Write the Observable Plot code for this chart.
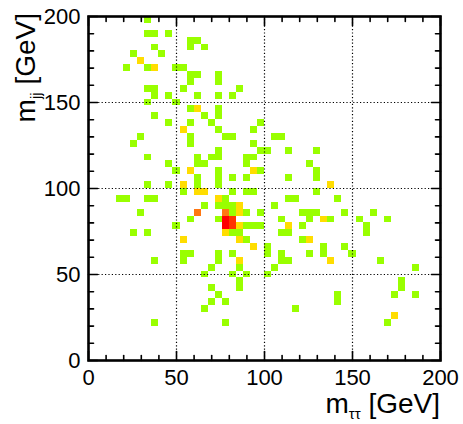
<!DOCTYPE html>
<html>
<head>
<meta charset="utf-8">
<script src="https://cdn.jsdelivr.net/npm/d3@7"></script>
<script src="https://cdn.jsdelivr.net/npm/@observablehq/plot@0.6"></script>
<style>
  html, body { margin: 0; padding: 0; background: #fff; }
  #chart svg { display: block; }
</style>
</head>
<body>
<div id="chart"></div>
<script>
// Bin width of the 2D histogram (GeV)
const binWidth = 4;
// Lower edges [m_tautau, m_jj] (GeV) of filled bins, grouped by bin content
const count1Cells = [
  [32,196],
  [32,188],[36,188],[44,188],
  [56,184],[60,184],[56,180],[64,180],[36,180],
  [24,176],[40,176],
  [20,168],[32,168],[48,168],[52,168],
  [56,164],[60,164],[56,160],[72,164],[72,160],
  [32,156],[36,156],[36,152],[44,152],[52,156],[60,152],[72,152],[80,152],[84,156],
  [32,148],[48,148],
  [56,144],[72,144],[72,140],[36,140],[64,140],
  [44,136],[56,136],[68,136],[96,136],
  [72,132],[92,132],
  [28,128],[56,128],[76,128],[80,128],[104,128],[108,128],
  [24,124],[56,124],[92,124],
  [72,120],[96,120],[100,120],[112,120],[128,120],
  [32,116],[60,116],[68,116],[72,116],[88,116],[92,116],
  [60,112],[64,112],[44,112],[88,112],[124,112],
  [48,108],[72,108],[96,108],[128,108],
  [60,104],[72,104],[80,104],[88,104],[112,104],[128,104],
  [32,100],[44,100],[60,100],[72,100],
  [52,96],[80,96],[88,96],[92,96],[128,96],
  [16,92],[20,92],[32,92],[36,92],[76,92],[112,92],[116,92],[140,92],
  [64,88],[72,88],[76,88],[80,88],[104,88],
  [28,84],[80,84],[88,84],[96,84],[120,84],[124,84],[128,84],[144,84],[160,84],
  [56,80],[72,80],[108,80],[124,80],[136,80],[152,80],[168,80],
  [48,76],[88,76],[92,76],[96,76],[120,76],[156,76],
  [24,72],[32,72],[80,72],[84,72],[108,72],[112,72],[156,72],
  [88,68],[120,68],
  [100,64],[132,64],[144,64],
  [52,60],[56,60],[72,60],[80,60],[100,60],[108,60],[124,60],[132,60],[148,60],
  [36,56],[52,56],[72,56],[108,56],[112,56],[164,56],
  [84,52],[68,52],[104,52],[184,52],
  [64,48],[80,48],[88,48],[100,48],
  [84,44],[176,44],
  [84,40],[68,40],[176,40],
  [72,36],[140,36],[172,36],[184,36],
  [68,32],[76,32],[140,32],
  [64,28],[116,28],
  [36,20],[76,20],[168,20]
];
const count2Cells = [
  [28,172],[36,168],[60,144],[52,132],[56,108],[92,108],[52,100],[136,100],
  [60,96],[64,96],[72,92],[84,88],[84,84],[132,80],[84,76],[112,76],
  [76,72],[52,68],[84,68],[124,68],[92,64],[84,56],[136,56],[172,24]
];
const count3Cells = [[60,84],[76,84]];
const count4Cells = [[80,80],[80,76]];
const count5Cells = [[76,80],[76,76]];

const binCounts = [1, 2, 3, 4, 5];
const palette = ["#99ff00", "#ffdd00", "#ff7711", "#ff3300", "#ff0000"];

const majorTicks = [0, 50, 100, 150, 200];
const minorTicks = [10,20,30,40,60,70,80,90,110,120,130,140,160,170,180,190];
const gridValues = [50, 100, 150];

const cells = [count1Cells, count2Cells, count3Cells, count4Cells, count5Cells]
  .flatMap((arr, k) => arr.map(([x, y]) => ({x, y, n: binCounts[k]})));

const tickShape = {
  draw(context, l) { context.moveTo(0, 0); context.lineTo(0, -l); }
};

const majorLen = 9, minorLen = 5;
const tickStyle = {stroke: "black", strokeWidth: 1.6, anchor: "start", shape: tickShape};

function ticksFor(values, len) {
  return [
    Plot.vector(values, {x: d => d, y: 0, length: len, rotate: 0, ...tickStyle}),
    Plot.vector(values, {x: d => d, y: 200, length: len, rotate: 180, ...tickStyle}),
    Plot.vector(values, {y: d => d, x: 0, length: len, rotate: 90, ...tickStyle}),
    Plot.vector(values, {y: d => d, x: 200, length: len, rotate: -90, ...tickStyle})
  ];
}

const FONT = "'Liberation Sans', Arial, sans-serif";

const plot = Plot.plot({
  width: 463,
  height: 424,
  marginLeft: 88,
  marginRight: 23,
  marginTop: 16,
  marginBottom: 64,
  style: {fontFamily: FONT, background: "white"},
  x: {domain: [0, 200], axis: null},
  y: {domain: [0, 200], axis: null},
  color: {type: "ordinal", domain: binCounts, range: palette},
  marks: [
    Plot.rect(cells, {
      x1: "x", x2: d => d.x + binWidth,
      y1: "y", y2: d => d.y + binWidth,
      fill: "n", shapeRendering: "crispEdges"
    }),
    Plot.ruleX(gridValues, {x: d => d, y1: 0, y2: 200, stroke: "black", strokeWidth: 1.2, strokeDasharray: "1.2,2.2"}),
    Plot.ruleY(gridValues, {y: d => d, x1: 0, x2: 200, stroke: "black", strokeWidth: 1.2, strokeDasharray: "1.2,2.2"}),
    ...ticksFor(majorTicks, majorLen),
    ...ticksFor(minorTicks, minorLen),
    Plot.frame({stroke: "black", strokeWidth: 2.6}),
    Plot.text(majorTicks, {x: d => d, y: 0, text: d => String(d), dy: 17, fontSize: 22, fill: "black", textAnchor: "middle"}),
    Plot.text(majorTicks, {y: d => d, x: 0, text: d => String(d), dx: -8, fontSize: 22, fill: "black", textAnchor: "end"})
  ]
});

document.getElementById("chart").appendChild(plot);

// Axis titles with subscripts
const svg = d3.select(plot);
const sx = plot.scale("x"), sy = plot.scale("y");
const xt = svg.append("text")
  .attr("x", sx.apply(200)).attr("y", 413)
  .attr("text-anchor", "end")
  .attr("font-size", 28)
  .attr("font-family", FONT)
  .attr("fill", "black");
xt.append("tspan").text("m");
xt.append("tspan").attr("font-size", 15).attr("dy", 6).text("ττ");
xt.append("tspan").attr("dy", -6).text(" [GeV]");

const yt = svg.append("text")
  .attr("transform", `translate(35,${sy.apply(200) - 3}) rotate(-90)`)
  .attr("text-anchor", "end")
  .attr("font-size", 28)
  .attr("font-family", FONT)
  .attr("fill", "black");
yt.append("tspan").text("m");
yt.append("tspan").attr("font-size", 15).attr("dy", 6).text("jj");
yt.append("tspan").attr("dy", -6).text(" [GeV]");
</script>
</body>
</html>
